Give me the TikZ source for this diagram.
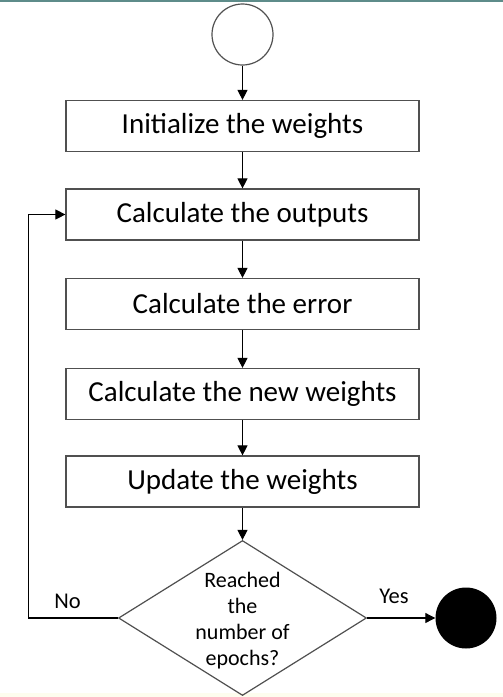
\documentclass[tikz,border=0pt]{standalone}
\usepackage{fontspec}
\setmainfont{Carlito}
\usetikzlibrary{arrows.meta,shapes.geometric}
\definecolor{linegray}{HTML}{505050}
\definecolor{topband}{HTML}{5E8C8A}
\definecolor{botband}{HTML}{FDFDEE}
\tikzset{
  stepbox/.style={draw=linegray, line width=1.2pt, minimum width=353pt, minimum height=51pt, inner sep=0pt, font=\fontsize{29}{32}\selectfont},
  decision/.style={draw=linegray, line width=1.2pt, diamond, minimum width=248pt, minimum height=155pt, inner sep=0pt},
  dtext/.style={align=center, inner sep=0pt, font=\fontsize{22}{26}\selectfont},
  flow/.style={draw=black, line width=1.1pt, -{Triangle[length=10pt,width=10pt]}},
  lbl/.style={font=\fontsize{22.5}{26}\selectfont, inner sep=0pt}
}
\begin{document}
\begin{tikzpicture}[x=1pt,y=-1pt]
\useasboundingbox (0,0) rectangle (503,697);
\fill[white] (0,0) rectangle (503,697);
\fill[botband] (0,693) rectangle (503,697);
\fill[topband] (0,0) rectangle (503,2);
\node[draw=linegray, line width=1.2pt, circle, minimum size=61pt, inner sep=0pt] (start) at (242.5,34.5) {};
\node[stepbox] (s1) at (242.5,126) {Initialize the weights};
\node[stepbox] (s2) at (242.5,214.5) {Calculate the outputs};
\node[stepbox] (s3) at (242.5,304) {Calculate the error};
\node[stepbox] (s4) at (242.5,394) {Calculate the new weights};
\node[stepbox] (s5) at (242.5,481.5) {Update the weights};
\node[decision] (d) at (242.5,618) {};
\node[dtext] (dt) at (242.5,621) {Reached\\the\\number of\\epochs?};
\node[fill=black, circle, minimum size=61pt, inner sep=0pt] (stop) at (466,618) {};
\coordinate (lb) at (28.5,618);
\coordinate (lt) at (28.5,214.5);
\draw[flow] (start) -- (s1);
\draw[flow] (s1) -- (s2);
\draw[flow] (s2) -- (s3);
\draw[flow] (s3) -- (s4);
\draw[flow] (s4) -- (s5);
\draw[flow] (s5) -- (d);
\draw[flow] (d.east) -- (stop);
\draw[flow] (d.west) -- (lb) -- (lt) -- (s2.west);
\node[lbl] (no) at (67.5,601) {No};
\node[lbl] (yes) at (394,596) {Yes};
\end{tikzpicture}
\end{document}
